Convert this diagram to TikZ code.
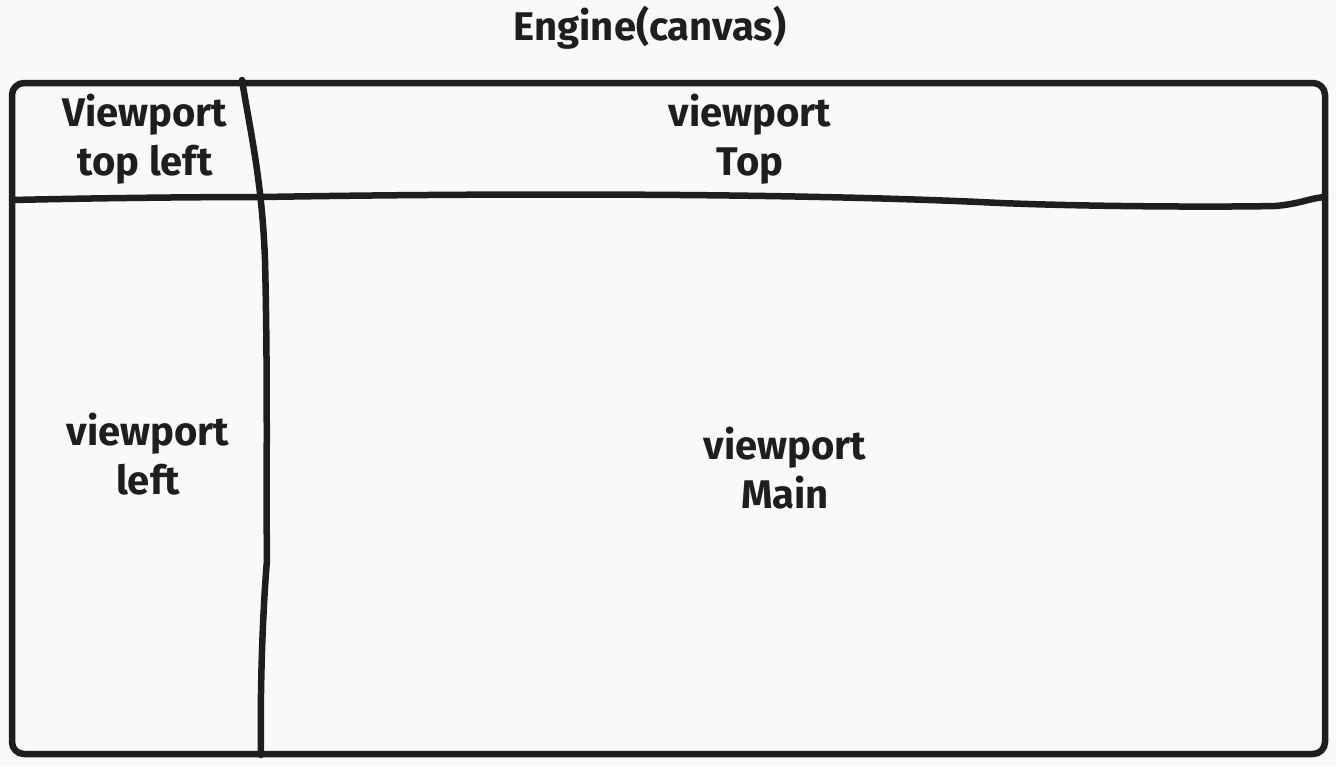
\documentclass[tikz,border=0pt]{standalone}
\usepackage{fontspec}
\setmainfont{Fira Sans}
\definecolor{ink}{HTML}{1E1E1E}
\definecolor{bg}{HTML}{F8F9FB}
\begin{document}
\begin{tikzpicture}[x=1pt,y=-1pt,
  lbl/.style={text=ink,align=center,inner sep=0pt,font=\fontsize{40}{49}\selectfont\bfseries},
  stroke/.style={draw=ink,line width=6.5pt,line cap=round,line join=round}]
\fill[bg] (0,0) rectangle (1336,766);
\useasboundingbox (0,0) rectangle (1336,766);
% outer frame
\draw[stroke,rounded corners=12pt] (12,83) rectangle (1325,754);
% horizontal divider
\draw[stroke] (12,200) .. controls (100,198) and (200,197) .. (262,197)
  .. controls (500,193) and (800,193) .. (1000,203)
  .. controls (1100,207) and (1230,207) .. (1275,206)
  .. controls (1300,204) and (1310,198) .. (1325,197);
% vertical divider
\draw[stroke] (242,80) .. controls (250,130) and (262,180) .. (265,260)
  .. controls (268,380) and (266,500) .. (267,560)
  .. controls (262,620) and (260,700) .. (261,755);
% labels
\node[lbl] (title) at (650,28) {Engine(canvas)};
\node[lbl] (tl) at (145,139) {Viewport\\top left};
\node[lbl] (top) at (750,139) {viewport\\Top};
\node[lbl] (left) at (148,454) {viewport\\left};
\node[lbl] (main) at (785,468) {viewport\\Main};
\end{tikzpicture}
\end{document}
